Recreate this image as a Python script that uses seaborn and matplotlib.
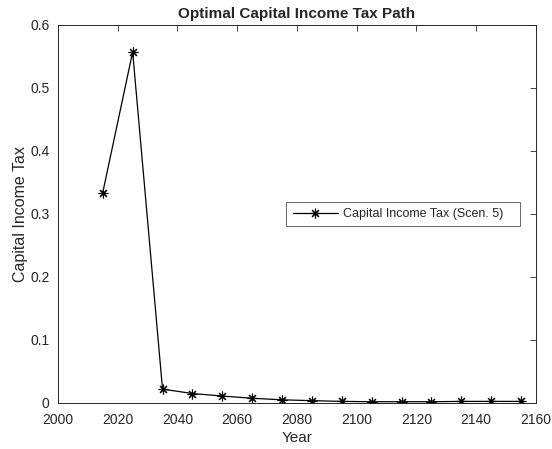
import matplotlib
matplotlib.use("Agg")
import matplotlib.pyplot as plt
import seaborn as sns
import pandas as pd

# Optimal capital income tax path (scenario 5)
years = [2015, 2025, 2035, 2045, 2055, 2065, 2075, 2085, 2095, 2105, 2115, 2125, 2135, 2145, 2155]
tax = [0.334, 0.557, 0.022, 0.015, 0.011, 0.0075, 0.005, 0.0037, 0.0025, 0.002, 0.002, 0.002, 0.0025, 0.0025, 0.0025]
x_ticks = [2000, 2020, 2040, 2060, 2080, 2100, 2120, 2140, 2160]
y_ticks = [0, 0.1, 0.2, 0.3, 0.4, 0.5, 0.6]
y_tick_labels = ["0", "0.1", "0.2", "0.3", "0.4", "0.5", "0.6"]
series_name = "Capital Income Tax (Scen. 5)"

sns.set_style("white")
plt.rcParams["font.family"] = ["Liberation Sans", "DejaVu Sans"]

df = pd.DataFrame({"Year": years, "Tax": tax})

fig = plt.figure(figsize=(5.52, 4.49), dpi=100)
ax = fig.add_axes([0.105, 0.1025, 0.866, 0.842])

sns.lineplot(data=df, x="Year", y="Tax", ax=ax, color="black", linewidth=0.9,
             marker=(8, 2, 0), markersize=7, markeredgewidth=0.8,
             markeredgecolor="black", label=series_name + "   ")

ax.set_xlim(2000, 2160)
ax.set_ylim(0, 0.6)
ax.set_xticks(x_ticks)
ax.set_yticks(y_ticks)
ax.set_yticklabels(y_tick_labels)
ax.tick_params(direction="in", length=4, width=0.6, top=True, right=True,
               labelsize=10, colors="#262626")
ax.tick_params(axis="x", pad=7)
ax.tick_params(axis="y", pad=6)
for s in ax.spines.values():
    s.set_color("#262626")
    s.set_linewidth(0.7)

ax.set_xlabel("Year", fontsize=11, color="#262626", labelpad=3)
ax.set_ylabel("Capital Income Tax", fontsize=11.5, color="#262626", labelpad=1.5)
ax.set_title("Optimal Capital Income Tax Path", fontsize=11, fontweight="bold", pad=5)

leg = ax.legend(loc="upper left", bbox_to_anchor=(0.478, 0.532), fontsize=9,
                frameon=True, fancybox=False, borderpad=0.5, handlelength=3.6,
                handletextpad=0.4, borderaxespad=0)
leg.get_frame().set_edgecolor("#262626")
leg.get_frame().set_linewidth(0.6)

fig.savefig("out.png", dpi=100)
